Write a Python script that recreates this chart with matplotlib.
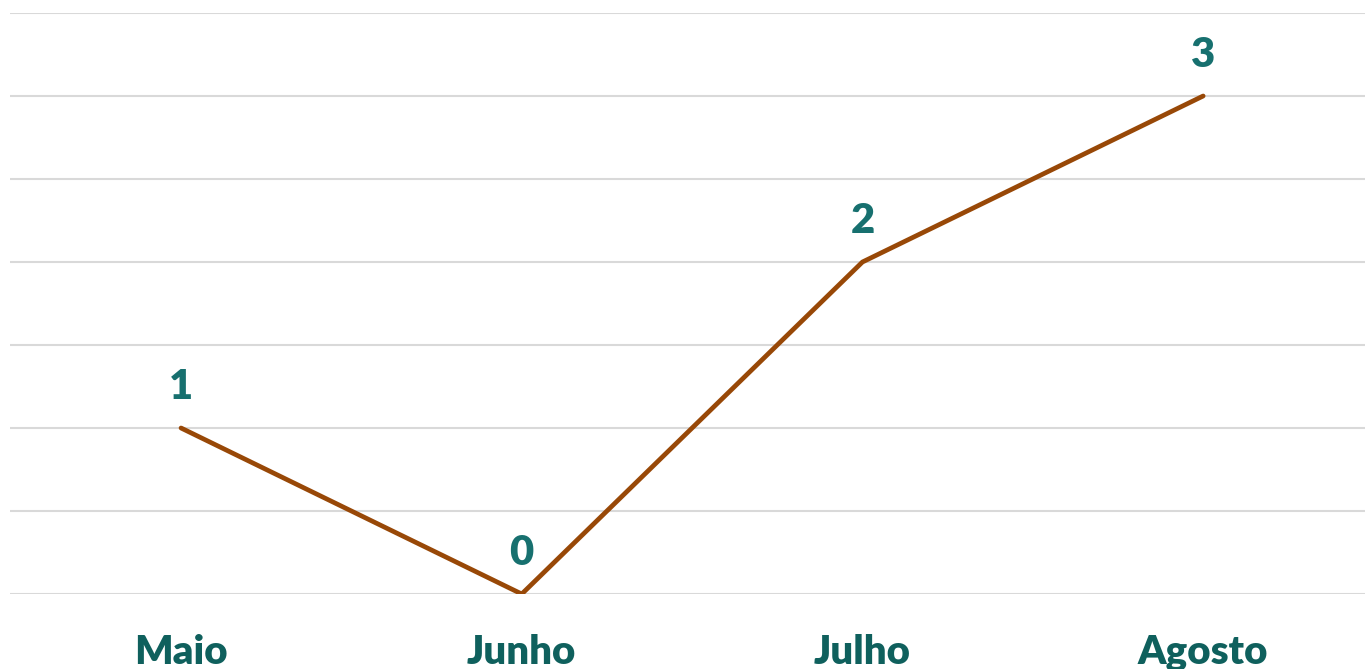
import matplotlib
matplotlib.use("Agg")
import matplotlib.pyplot as plt

# dados
meses = ["Maio", "Junho", "Julho", "Agosto"]
valores = [1, 0, 2, 3]

cor_linha = "#984807"
cor_rotulo = "#17706F"
cor_eixo = "#0F605D"

plt.rcParams["font.family"] = ["Lato", "DejaVu Sans"]

fig = plt.figure(figsize=(13.65, 6.69), dpi=100)
ax = fig.add_axes([10 / 1365, 75 / 669, 1355 / 1365, 581 / 669])

x = list(range(len(meses)))
ax.plot(x, valores, color=cor_linha, lw=3.4, solid_capstyle="round",
        solid_joinstyle="miter", zorder=3)

for xi, v in zip(x, valores):
    ax.annotate(str(v), (xi, v), xytext=(0, 21), textcoords="offset points",
                ha="center", va="baseline", fontsize=30, fontweight="heavy",
                color=cor_rotulo)

ax.set_xlim(-0.502, 3.475)
ax.set_ylim(0, 3.5)
ax.set_yticks([i * 0.5 for i in range(8)])
ax.yaxis.grid(True, color="#D9D9D9", lw=1.5)
ax.set_axisbelow(True)
ax.tick_params(axis="y", left=False, labelleft=False)
ax.set_xticks(x)
ax.set_xticklabels(meses, fontsize=29, fontweight="heavy", color=cor_eixo)
ax.tick_params(axis="x", length=0, pad=29)
for s in ax.spines.values():
    s.set_visible(False)

fig.savefig("out.png", dpi=100)
